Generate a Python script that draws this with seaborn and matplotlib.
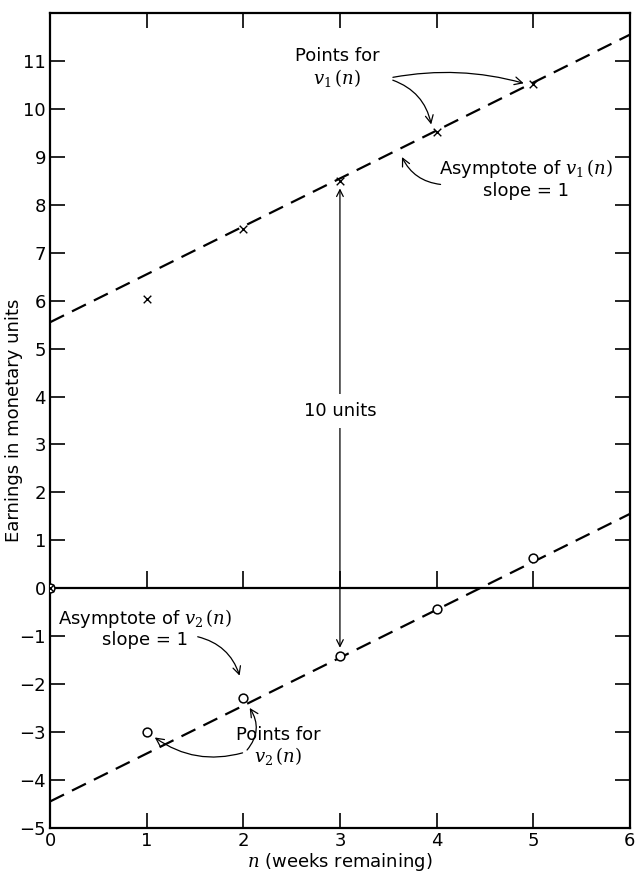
import numpy as np
import pandas as pd
import matplotlib
matplotlib.use('Agg')
import matplotlib.pyplot as plt
import seaborn as sns

# values
weeks = [0, 1, 2, 3, 4, 5]
v1 = [0.0, 6.03, 7.5, 8.5, 9.52, 10.52]
v2 = [0.0, -3.0, -2.3, -1.42, -0.43, 0.62]
asym_n = [0, 6]
asym_v1 = [5.55, 11.55]
asym_v2 = [-4.45, 1.55]
x_ticks = [0, 1, 2, 3, 4, 5, 6]
y_ticks = list(range(-5, 12))

sns.set_style('ticks')
plt.rcParams['font.family'] = ['DejaVu Sans']
plt.rcParams['mathtext.fontset'] = 'custom'
plt.rcParams['mathtext.it'] = 'DejaVu Serif:italic'
plt.rcParams['mathtext.rm'] = 'DejaVu Serif'
plt.rcParams['text.color'] = 'black'
plt.rcParams['axes.labelcolor'] = 'black'
plt.rcParams['xtick.color'] = 'black'
plt.rcParams['ytick.color'] = 'black'
plt.rcParams['axes.edgecolor'] = 'black'

pts = pd.DataFrame({'n': weeks * 2, 'v': v1 + v2,
                    'series': ['v1'] * 6 + ['v2'] * 6})
asym = pd.DataFrame({'n': asym_n * 2, 'v': asym_v1 + asym_v2,
                     'series': ['v1'] * 2 + ['v2'] * 2})

fig, ax = plt.subplots(figsize=(6.42, 8.76), dpi=100)
fig.subplots_adjust(left=0.078, right=0.981, top=0.985, bottom=0.055)

sns.lineplot(data=asym, x='n', y='v', units='series', estimator=None,
             color='black', lw=1.6, dashes=False, ax=ax, legend=False)
for l in ax.get_lines():
    l.set_dashes([7, 4])

sns.scatterplot(data=pts[pts.series == 'v2'], x='n', y='v', marker='o',
                facecolor='white', edgecolor='black', s=40, linewidth=1.1,
                ax=ax, legend=False, zorder=5)
sns.scatterplot(data=pts[pts.series == 'v1'], x='n', y='v', marker='x',
                color='black', s=30, linewidth=1, ax=ax, legend=False, zorder=6)

ax.axhline(0, color='black', lw=1.6)
ax.vlines(x_ticks[1:-1], 0, 0.35, color='black', lw=1.2)

ax.set_xlim(0, 6)
ax.set_ylim(-5, 12)
ax.set_xticks(x_ticks)
ax.set_yticks(y_ticks)
ax.set_yticklabels([str(t).replace('-', '\u2212') for t in y_ticks])
ax.tick_params(direction='in', length=11, width=1.2, labelsize=13,
               top=True, right=True, pad=3)
for s in ax.spines.values():
    s.set_linewidth(1.6)

ax.set_xlabel(r'$n$ (weeks remaining)', fontsize=13, labelpad=1)
ax.set_ylabel('Earnings in monetary units', fontsize=13, labelpad=-3)

# 10 units double arrow
ax.annotate('', xy=(3, 8.4), xytext=(3, -1.3),
            arrowprops=dict(arrowstyle='<->', lw=0.9, color='black',
                            mutation_scale=12))
ax.text(3, 3.7, '10 units', ha='center', va='center', fontsize=13,
        bbox=dict(facecolor='white', edgecolor='none', pad=6))

arrow = dict(arrowstyle='->', lw=0.9, color='black', mutation_scale=14)

ax.text(2.97, 10.85, 'Points for\n' + r'$v_1\,(n)$', ha='center', va='center',
        fontsize=13, linespacing=1.1)
ax.annotate('', xy=(4.93, 10.52), xytext=(3.52, 10.65),
            arrowprops=dict(connectionstyle='arc3,rad=-0.12', **arrow))
ax.annotate('', xy=(3.95, 9.62), xytext=(3.52, 10.62),
            arrowprops=dict(connectionstyle='arc3,rad=-0.3', **arrow))

ax.text(4.93, 8.55, 'Asymptote of ' + r'$v_1\,(n)$' + '\nslope = 1',
        ha='center', va='center', fontsize=13, linespacing=1.1)
ax.annotate('', xy=(3.63, 9.05), xytext=(4.07, 8.42),
            arrowprops=dict(connectionstyle='arc3,rad=-0.3', **arrow))

ax.text(0.98, -0.83, 'Asymptote of ' + r'$v_2\,(n)$' + '\nslope = 1',
        ha='center', va='center', fontsize=13, linespacing=1.1)
ax.annotate('', xy=(1.97, -1.88), xytext=(1.5, -1.0),
            arrowprops=dict(connectionstyle='arc3,rad=-0.3', **arrow))

ax.text(2.36, -3.3, 'Points for\n' + r'$v_2\,(n)$', ha='center', va='center',
        fontsize=13, linespacing=1.1)
ax.annotate('', xy=(1.06, -3.08), xytext=(2.02, -3.42),
            arrowprops=dict(connectionstyle='arc3,rad=-0.25', **arrow))
ax.annotate('', xy=(2.05, -2.45), xytext=(2.02, -3.42),
            arrowprops=dict(connectionstyle='arc3,rad=0.4', **arrow))

fig.savefig('out.png', dpi=100)
